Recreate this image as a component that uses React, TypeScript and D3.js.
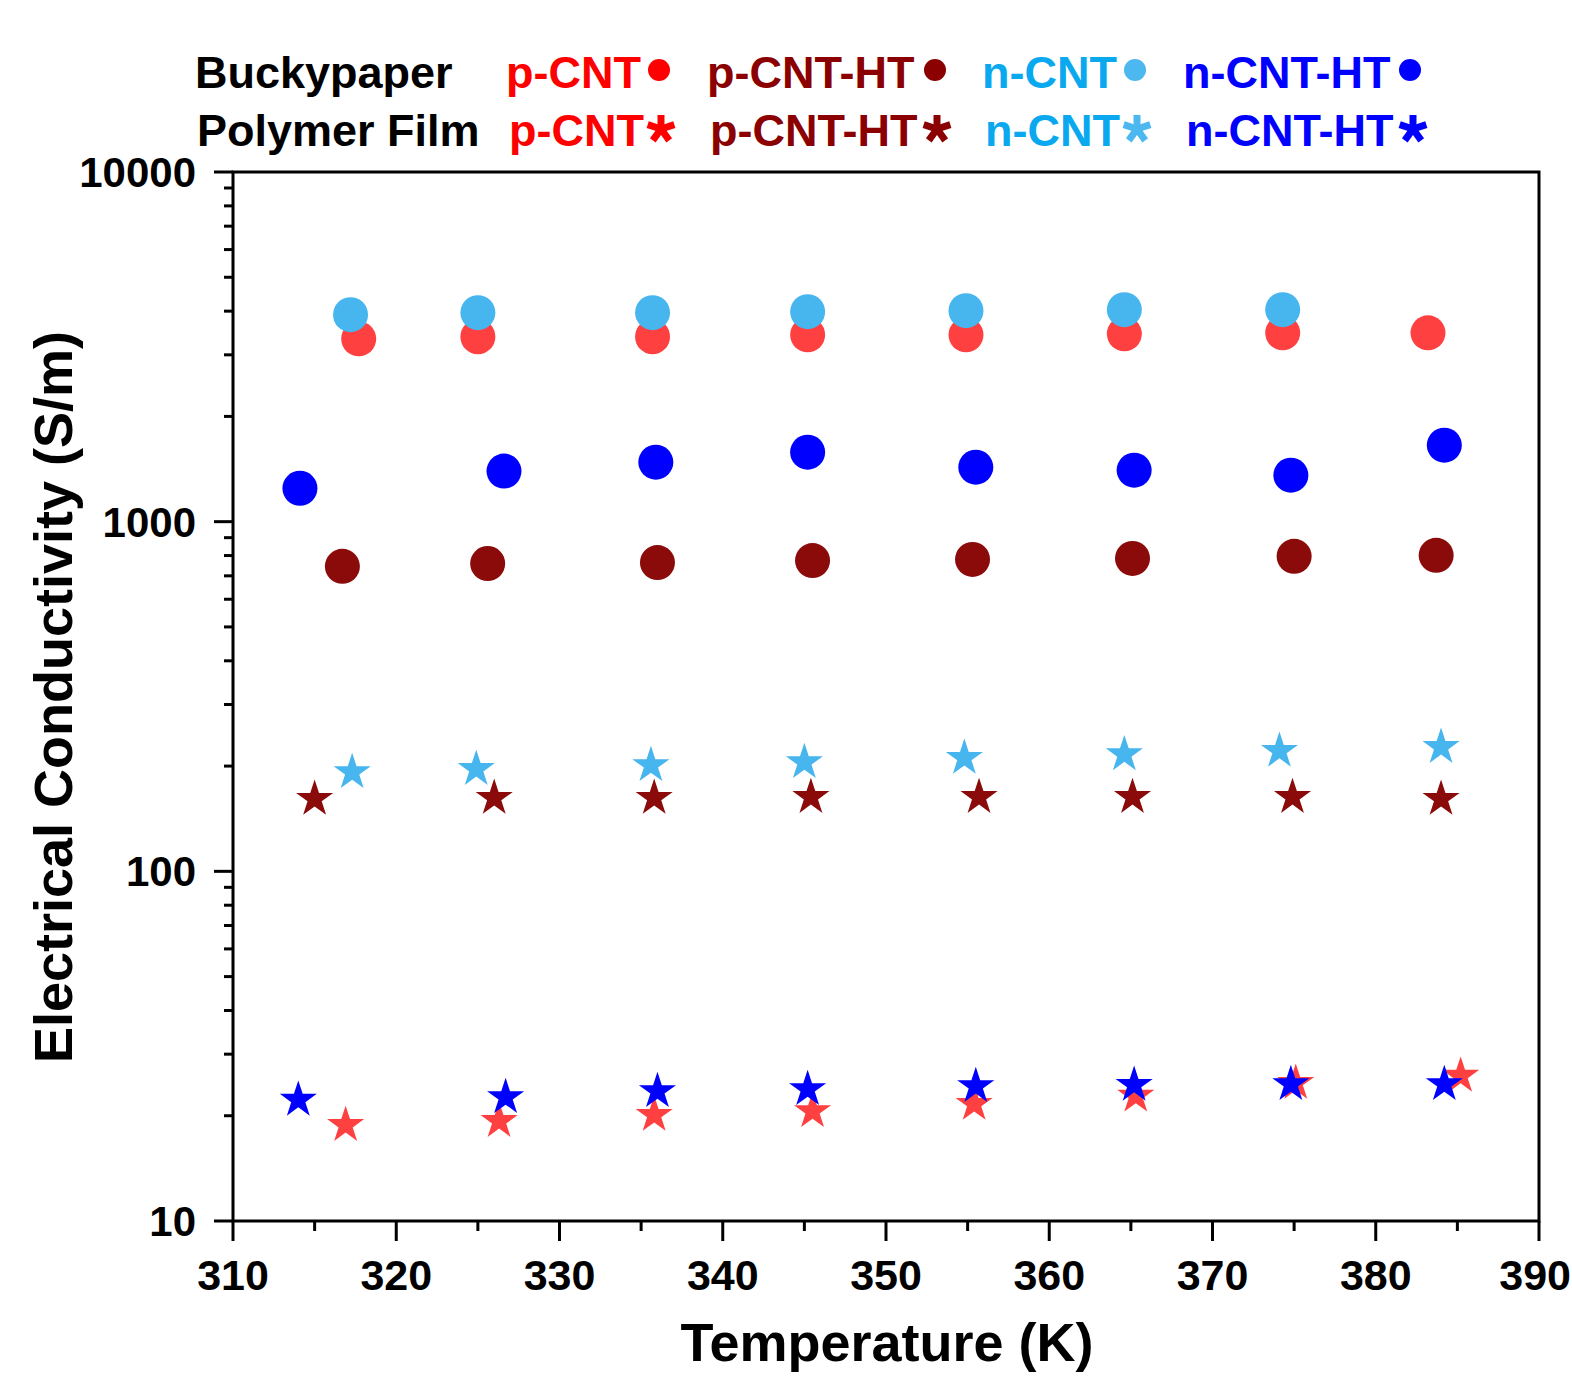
import React from "react";
import * as d3 from "d3";

const W = 1572;
const H = 1376;

// ---- data ----
const pCntCircT = [317.7, 325.0, 335.7, 345.2, 354.9, 364.6, 374.3, 383.2];
const pCntCircV = [3334, 3380, 3380, 3423, 3423, 3445, 3467, 3467];

const nCntCircT = [317.2, 325.0, 335.7, 345.2, 354.9, 364.6, 374.3];
const nCntCircV = [3908, 3960, 3960, 3986, 4012, 4040, 4040];

const pHtCircT = [316.7, 325.6, 336.0, 345.5, 355.3, 365.1, 375.0, 383.7];
const pHtCircV = [745, 759, 764, 774, 780, 785, 796, 801];

const nHtCircT = [314.1, 326.6, 335.9, 345.2, 355.5, 365.2, 374.8, 384.2];
const nHtCircV = [1246, 1395, 1480, 1580, 1432, 1404, 1358, 1655];

const pCntStarT = [316.9, 326.3, 335.8, 345.5, 355.4, 365.3, 375.1, 385.2];
const pCntStarV = [18.8, 19.3, 20.1, 20.6, 21.6, 22.8, 24.8, 26.0];

const nCntStarT = [317.3, 324.9, 335.6, 345.0, 354.8, 364.6, 374.1, 384.0];
const nCntStarV = [192, 196, 201, 205, 211, 216, 221, 226.6];

const pHtStarT = [315.0, 326.0, 335.8, 345.4, 355.7, 365.1, 374.9, 384.0];
const pHtStarV = [161, 162, 162, 163, 163, 163, 163, 161];

const nHtStarT = [314.0, 326.7, 336.0, 345.2, 355.5, 365.2, 374.8, 384.2];
const nHtStarV = [22.2, 22.6, 23.5, 23.8, 24.3, 24.5, 24.6, 24.6];

const xMajorTicks = [310, 320, 330, 340, 350, 360, 370, 380, 390];
const yMajorTicks = [10, 100, 1000, 10000];

const legendNames = ["p-CNT", "p-CNT-HT", "n-CNT", "n-CNT-HT"];
const rowLabels = ["Buckypaper", "Polymer Film"];

// ---- styles ----
const FONT = "'Liberation Sans', Arial, Helvetica, sans-serif";
const textColors = ["#ff0000", "#8b0000", "#0aa8ee", "#0000ff"];
const legendDotColors = ["#ff0000", "#8b0000", "#4db8f0", "#0000ff"];
const markerColors = ["#ff4040", "#8b0a0a", "#47b5ee", "#0000ff"];

const circleSeries = [
  { T: pCntCircT, V: pCntCircV, c: 0 },
  { T: nCntCircT, V: nCntCircV, c: 2 },
  { T: pHtCircT, V: pHtCircV, c: 1 },
  { T: nHtCircT, V: nHtCircV, c: 3 },
];
const starSeries = [
  { T: pCntStarT, V: pCntStarV, c: 0 },
  { T: nCntStarT, V: nCntStarV, c: 2 },
  { T: pHtStarT, V: pHtStarV, c: 1 },
  { T: nHtStarT, V: nHtStarV, c: 3 },
];

// plot geometry
const X0 = 233;
const X1 = 1539;
const Y0 = 172;
const Y1 = 1221;

const x = d3.scaleLinear().domain([310, 390]).range([X0, X1]);
const y = d3.scaleLog().domain([10, 10000]).range([Y1, Y0]);

function starPath(R: number): string {
  const r = R * 0.382;
  const pts: string[] = [];
  for (let i = 0; i < 10; i++) {
    const a = -Math.PI / 2 + (i * Math.PI) / 5;
    const rad = i % 2 === 0 ? R : r;
    pts.push(`${(rad * Math.cos(a)).toFixed(2)},${(rad * Math.sin(a)).toFixed(2)}`);
  }
  return "M" + pts.join("L") + "Z";
}
const STAR = starPath(19.5);

function asteriskArms(L: number) {
  const arms = [];
  for (let i = 0; i < 5; i++) {
    const a = -Math.PI / 2 + (i * 2 * Math.PI) / 5;
    arms.push([L * Math.cos(a), L * Math.sin(a)]);
  }
  return arms;
}
const ASTER = asteriskArms(14);

const legendTextX = [
  [506, 707, 982, 1183],
  [509, 710, 985, 1186],
];
const legendDotX = [659, 935, 1135, 1410];
const legendStarX = [661, 937, 1137, 1413];
const rowBaseline = [88, 146];
const rowLabelX = [195, 197];

export default function App() {
  const yMinor: number[] = [];
  [10, 100, 1000].forEach((d) => {
    for (let k = 2; k <= 9; k++) yMinor.push(d * k);
  });
  const xMinor = d3.range(315, 390, 10);
  const xLabFont = 43;
  const xLabHalf = (3 * 0.556 * xLabFont) / 2 + 1;

  return (
    <svg
      width={W}
      height={H}
      viewBox={`0 0 ${W} ${H}`}
      style={{ position: "absolute", left: 0, top: 0, background: "#fff" }}
      fontFamily={FONT}
      fontWeight="bold"
    >
      <rect x={0} y={0} width={W} height={H} fill="#fff" />

      {/* legend */}
      {rowLabels.map((lab, r) => (
        <text key={lab} x={rowLabelX[r]} y={rowBaseline[r]} fontSize={45} fill="#000">
          {lab}
        </text>
      ))}
      {legendNames.map((n, i) => (
        <g key={n}>
          <text x={legendTextX[0][i]} y={rowBaseline[0]} fontSize={45} fill={textColors[i]}>
            {n}
          </text>
          <circle cx={legendDotX[i]} cy={70} r={11} fill={legendDotColors[i]} />
          <text x={legendTextX[1][i]} y={rowBaseline[1]} fontSize={45} fill={textColors[i]}>
            {n}
          </text>
          <g transform={`translate(${legendStarX[i]},${129})`}>
            {ASTER.map((p, k) => (
              <line
                key={k}
                x1={0}
                y1={0}
                x2={p[0]}
                y2={p[1]}
                stroke={legendDotColors[i]}
                strokeWidth={7}
                strokeLinecap="butt"
              />
            ))}
          </g>
        </g>
      ))}

      {/* markers: circles */}
      {circleSeries.map((s, si) =>
        s.T.map((t, k) => (
          <circle
            key={`c${si}-${k}`}
            cx={x(t)}
            cy={y(s.V[k])}
            r={17.5}
            fill={markerColors[s.c]}
          />
        ))
      )}
      {/* markers: stars */}
      {starSeries.map((s, si) =>
        s.T.map((t, k) => (
          <path
            key={`s${si}-${k}`}
            d={STAR}
            transform={`translate(${x(t)},${y(s.V[k])})`}
            fill={markerColors[s.c]}
          />
        ))
      )}

      {/* frame */}
      <rect x={X0} y={Y0} width={X1 - X0} height={Y1 - Y0} fill="none" stroke="#000" strokeWidth={3} />

      {/* y ticks */}
      {yMajorTicks.map((v) => (
        <g key={`ym${v}`}>
          <line x1={X0 - 19} x2={X0} y1={y(v)} y2={y(v)} stroke="#000" strokeWidth={3} />
          <text x={196} y={y(v) + 15} fontSize={42} textAnchor="end" fill="#000">
            {v}
          </text>
        </g>
      ))}
      {yMinor.map((v) => (
        <line key={`yn${v}`} x1={X0 - 9} x2={X0} y1={y(v)} y2={y(v)} stroke="#000" strokeWidth={3} />
      ))}

      {/* x ticks */}
      {xMajorTicks.map((t) => (
        <g key={`xm${t}`}>
          <line x1={x(t)} x2={x(t)} y1={Y1} y2={Y1 + 20} stroke="#000" strokeWidth={3} />
          <text
            x={Math.min(x(t), W - xLabHalf)}
            y={1290}
            fontSize={xLabFont}
            textAnchor="middle"
            fill="#000"
          >
            {t}
          </text>
        </g>
      ))}
      {xMinor.map((t) => (
        <line key={`xn${t}`} x1={x(t)} x2={x(t)} y1={Y1} y2={Y1 + 10} stroke="#000" strokeWidth={3} />
      ))}

      {/* axis titles */}
      <text x={887} y={1361} fontSize={54} textAnchor="middle" fill="#000">
        Temperature (K)
      </text>
      <text
        transform={`translate(72,697) rotate(-90)`}
        fontSize={54}
        textAnchor="middle"
        fill="#000"
      >
        Electrical Conductivity (S/m)
      </text>
    </svg>
  );
}
